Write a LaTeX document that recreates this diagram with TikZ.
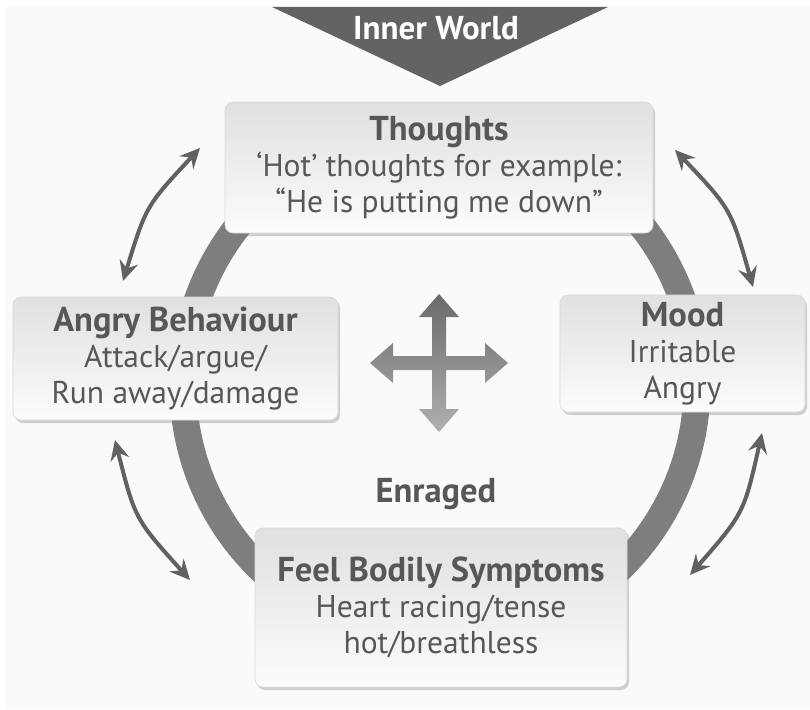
\documentclass[tikz,border=0pt]{standalone}
\usepackage{fontspec}
\setmainfont{PT Sans}
\usetikzlibrary{arrows.meta,shadows}
\definecolor{bgc}{HTML}{FAFAFA}
\definecolor{tric}{HTML}{636363}
\definecolor{ringc}{HTML}{7E7E7E}
\definecolor{arrc}{HTML}{616161}
\definecolor{txtc}{HTML}{575757}
\definecolor{boxtop}{HTML}{E0E0E0}
\definecolor{boxbot}{HTML}{FCFCFC}
\definecolor{crosstop}{HTML}{6A6A6A}
\definecolor{crossbot}{HTML}{B0B0B0}
\newcommand{\ttl}{\fontsize{34.5}{36}\selectfont\bfseries}
\begin{document}
\begin{tikzpicture}[x=1pt,y=-1pt,
  box/.style={rounded corners=8pt, top color=boxtop, bottom color=boxbot,
    draw=gray!30, line width=0.6pt,
    drop shadow={shadow xshift=2pt, shadow yshift=-3pt, opacity=0.35},
    text=txtc, align=center, inner sep=0pt,
    font=\fontsize{31.5}{36}\selectfont},
  dbl/.style={draw=arrc, line width=4pt,
    {Stealth[length=20pt,width=19pt,inset=7pt]}-{Stealth[length=20pt,width=19pt,inset=7pt]}},
  ringline/.style={draw=ringc, line width=27pt},
  lbl/.style={text=txtc, font=\ttl, inner sep=0pt}]
\useasboundingbox (0,0) rectangle (810,709);
\fill[white] (0,0) rectangle (810,709);
\fill[bgc] (5,7) rectangle (810,709);

% top triangle
\fill[tric] (272,7) -- (608,7) -- (440,86) -- cycle;
\node[text=white, font=\fontsize{33}{36}\selectfont\bfseries, anchor=base, inner sep=0pt] (iw) at (436,40) {Inner World};

% ring
\coordinate (ctr) at (440,385);
\draw[ringline] (ctr) circle[radius=257];

% double arrows
\coordinate (tla) at (200,148);
\coordinate (tlb) at (123,281);
\coordinate (tra) at (675,150);
\coordinate (trb) at (753,287);
\coordinate (bla) at (115,440);
\coordinate (blb) at (190,580);
\coordinate (bra) at (762,433);
\coordinate (brb) at (690,575);
\draw[dbl] (tla) .. controls (146,206) .. (tlb);
\draw[dbl] (tra) .. controls (731,209) .. (trb);
\draw[dbl] (bla) .. controls (135,519) .. (blb);
\draw[dbl] (bra) .. controls (744,513) .. (brb);

% boxes
\node[box, minimum width=428pt, minimum height=131pt] (th) at (439,167.5)
  {{\ttl Thoughts}\\‘Hot’ thoughts for example:\\“He is putting me down”};
\node[box, minimum width=325pt, minimum height=123pt] (ab) at (175.5,358.5)
  {{\ttl Angry Behaviour}\\Attack/argue/\\Run away/damage};
\node[box, minimum width=245pt, minimum height=117pt] (mo) at (682.5,353.5)
  {{\ttl Mood}\\Irritable\\Angry};
\node[box, minimum width=372pt, minimum height=159pt] (fb) at (441,607.5)
  {{\ttl Feel Bodily Symptoms}\\Heart racing/tense\\hot/breathless};

% centre cross arrow
\shade[top color=crosstop, bottom color=crossbot, shift={(439,363)}]
  (0,-69) -- (20,-46) -- (7,-46) -- (7,-7) -- (46,-7) -- (46,-20) -- (69,0)
  -- (46,20) -- (46,7) -- (7,7) -- (7,46) -- (20,46) -- (0,69) -- (-20,46)
  -- (-7,46) -- (-7,7) -- (-46,7) -- (-46,20) -- (-69,0) -- (-46,-20)
  -- (-46,-7) -- (-7,-7) -- (-7,-46) -- (-20,-46) -- cycle;

\node[lbl, anchor=base] (en) at (436,502) {Enraged};
\end{tikzpicture}
\end{document}
